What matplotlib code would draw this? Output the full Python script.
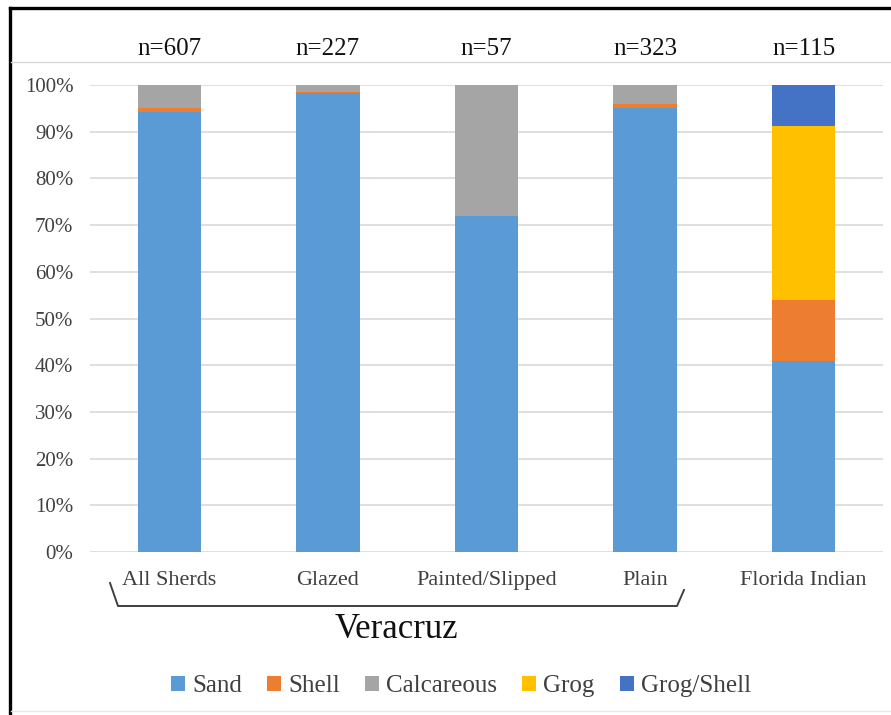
import numpy as np
import matplotlib
matplotlib.use("Agg")
import matplotlib.pyplot as plt
from matplotlib.lines import Line2D
from matplotlib.ticker import PercentFormatter
from matplotlib.transforms import blended_transform_factory

# Temper composition (% of sherds) by ware group
groups = ["All Sherds", "Glazed", "Painted/Slipped", "Plain", "Florida Indian"]
counts = [607, 227, 57, 323, 115]
sand = [94.2, 98.2, 71.9, 95.0, 40.9]
shell = [0.8, 0.4, 0.0, 0.9, 13.0]
calcareous = [5.0, 1.4, 28.1, 4.1, 0.0]
grog = [0.0, 0.0, 0.0, 0.0, 37.4]
grog_shell = [0.0, 0.0, 0.0, 0.0, 8.7]

series = [
    ("Sand", sand, "#5B9BD5"),
    ("Shell", shell, "#ED7D31"),
    ("Calcareous", calcareous, "#A5A5A5"),
    ("Grog", grog, "#FFC000"),
    ("Grog/Shell", grog_shell, "#4472C4"),
]

plt.rcParams["font.family"] = ["Liberation Serif", "DejaVu Serif"]

W, H = 891, 715
fig = plt.figure(figsize=(W / 100, H / 100), dpi=100)

def fx(px):
    return px / W

def fy(py):
    return 1 - py / H

ax = fig.add_axes([fx(90), fy(552), fx(883) - fx(90), fy(85) - fy(552)])

x = np.arange(len(groups))
bottom = np.zeros(len(groups))
for name, vals, color in series:
    vals = np.array(vals)
    ax.bar(x, vals, width=0.4, bottom=bottom, color=color, label=name, zorder=3)
    bottom += vals

ax.set_xlim(-0.5, len(groups) - 0.5)
ax.set_ylim(0, 100)
ax.set_yticks(np.arange(0, 101, 10))
ax.yaxis.set_major_formatter(PercentFormatter(decimals=0))
ax.grid(axis="y", color="#D9D9D9", linewidth=1.2, zorder=0)
for s in ["top", "right", "left", "bottom"]:
    ax.spines[s].set_visible(False)
ax.tick_params(axis="both", length=0)
ax.tick_params(axis="y", labelsize=15, labelcolor="#404040", pad=12)
ax.set_xticks(x)
ax.set_xticklabels(groups, fontsize=16, color="#404040")
ax.tick_params(axis="x", pad=14)

# sample sizes above each bar
n_trans = blended_transform_factory(ax.transData, fig.transFigure)
for xi, n in zip(x, counts):
    ax.text(xi, fy(49), f"n={n}", transform=n_trans,
            ha="center", va="center", fontsize=18, color="#111111")

# bracket grouping the Veracruz wares
bracket_x = [fx(110), fx(118), fx(677), fx(684)]
bracket_y = [fy(583), fy(606), fy(606), fy(590)]
fig.add_artist(Line2D(bracket_x, bracket_y, color="#404040", linewidth=1.4))
fig.text(fx(396), fy(630), "Veracruz", ha="center", va="center",
         fontsize=25, color="#111111")

leg = fig.legend(loc="center", bbox_to_anchor=(fx(461), fy(686)), ncol=5,
                 frameon=False, fontsize=18, handlelength=0.55, handleheight=0.55,
                 handletextpad=0.3, columnspacing=1.0)
for t in leg.get_texts():
    t.set_color("#404040")

# outer frame and separator lines
fig.add_artist(Line2D([fx(10), 1], [fy(8), fy(8)], color="black", linewidth=2.4))
fig.add_artist(Line2D([fx(10), fx(10)], [fy(8), 0], color="black", linewidth=2.4))
fig.add_artist(Line2D([fx(11), 1], [fy(62), fy(62)], color="#D9D9D9", linewidth=1.0))
fig.add_artist(Line2D([fx(11), 1], [fy(711), fy(711)], color="#E8E8E8", linewidth=1.0))

fig.savefig("out.png", dpi=100)
